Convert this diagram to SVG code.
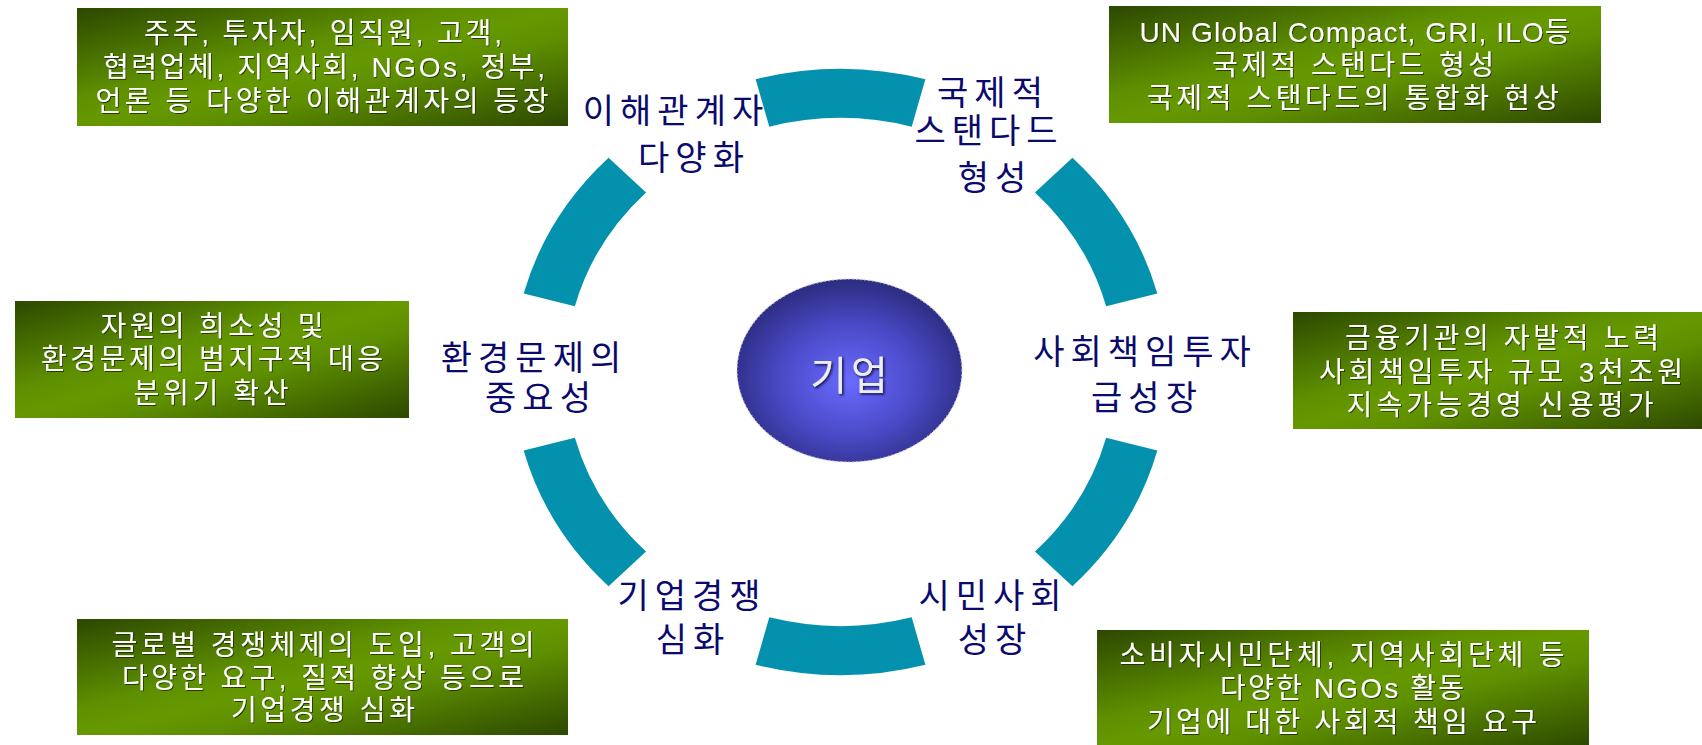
<svg xmlns="http://www.w3.org/2000/svg" width="1702" height="745" viewBox="0 0 1702 745">
<defs>
<linearGradient id="boxg" x1="0" y1="0" x2="1" y2="1">
<stop offset="0" stop-color="#2c4800"/>
<stop offset="0.38" stop-color="#5e8f00"/>
<stop offset="0.5" stop-color="#669900"/>
<stop offset="0.62" stop-color="#5e8f00"/>
<stop offset="1" stop-color="#2c4800"/>
</linearGradient>
<radialGradient id="coreg" cx="0.5" cy="0.55" r="0.55" fx="0.5" fy="0.56">
<stop offset="0" stop-color="#6a6aff"/>
<stop offset="0.55" stop-color="#4a4ac8"/>
<stop offset="1" stop-color="#2c2c80"/>
</radialGradient>
<filter id="ts" x="-5%" y="-20%" width="110%" height="140%">
<feDropShadow dx="1" dy="1" stdDeviation="0.6" flood-color="#1a2600" flood-opacity="0.8"/>
</filter>
<filter id="cs" x="-10%" y="-20%" width="120%" height="140%">
<feDropShadow dx="1.5" dy="1.5" stdDeviation="0.8" flood-color="#101040" flood-opacity="0.9"/>
</filter>
</defs>
<style>
.box{fill:url(#boxg)}
.bt{font-family:"Liberation Sans","Noto Sans CJK KR",sans-serif;font-size:28px;fill:#ffffff;text-anchor:middle;filter:url(#ts)}
.lb{font-family:"Liberation Sans","Noto Sans CJK KR",sans-serif;font-size:34px;fill:#0a0a6e;text-anchor:middle;letter-spacing:6px}
.arc{fill:#0391ad}
.ct{font-family:"Liberation Sans","Noto Sans CJK KR",sans-serif;font-size:40px;fill:#eeeeee;text-anchor:middle;letter-spacing:4px;filter:url(#cs)}
</style>
<rect width="1702" height="745" fill="#ffffff"/>

<g id="connectors">
<path class="arc" d="M755.61,79.32 A328,303 0 0 1 925.39,79.32 L911.68,126.65 A275,254 0 0 0 769.32,126.65 Z"/>
<path class="arc" d="M1072.43,157.75 A328,303 0 0 1 1157.32,293.58 L1106.13,306.26 A275,254 0 0 0 1034.96,192.39 Z"/>
<path class="arc" d="M1157.32,450.42 A328,303 0 0 1 1072.43,586.25 L1034.96,551.61 A275,254 0 0 0 1106.13,437.74 Z"/>
<path class="arc" d="M925.39,664.68 A328,303 0 0 1 755.61,664.68 L769.32,617.35 A275,254 0 0 0 911.68,617.35 Z"/>
<path class="arc" d="M608.57,586.25 A328,303 0 0 1 523.68,450.42 L574.87,437.74 A275,254 0 0 0 646.04,551.61 Z"/>
<path class="arc" d="M523.68,293.58 A328,303 0 0 1 608.57,157.75 L646.04,192.39 A275,254 0 0 0 574.87,306.26 Z"/>
</g>

<g id="core">
<ellipse cx="849.5" cy="370.5" rx="112.5" ry="91.5" fill="url(#coreg)" stroke="#c8c8e4" stroke-width="1.5" stroke-dasharray="1.5 2.5" stroke-opacity="0.8"/>
<text class="ct" x="851" y="390">기업</text>
</g>

<g id="label-stakeholders">
<text class="lb" x="676" y="123">이해관계자</text>
<text class="lb" x="694" y="170">다양화</text>
</g>
<g id="label-standards">
<text class="lb" x="993" y="105">국제적</text>
<text class="lb" x="989" y="143">스탠다드</text>
<text class="lb" x="995" y="190">형성</text>
</g>
<g id="label-sri">
<text class="lb" x="1145" y="364">사회책임투자</text>
<text class="lb" x="1147" y="410">급성장</text>
</g>
<g id="label-civil">
<text class="lb" x="993" y="608">시민사회</text>
<text class="lb" x="995" y="652">성장</text>
</g>
<g id="label-competition">
<text class="lb" x="692" y="608">기업경쟁</text>
<text class="lb" x="693" y="652">심화</text>
</g>
<g id="label-environment">
<text class="lb" x="534" y="370">환경문제의</text>
<text class="lb" x="541" y="410">중요성</text>
</g>

<g id="box-stakeholders">
<rect class="box" x="77" y="8" width="491" height="118"/>
<text class="bt" x="323" y="43" textLength="358" lengthAdjust="spacing">주주, 투자자, 임직원, 고객,</text>
<text class="bt" x="324" y="77" textLength="442" lengthAdjust="spacing">협력업체, 지역사회, NGOs, 정부,</text>
<text class="bt" x="322" y="111" textLength="453" lengthAdjust="spacing">언론 등 다양한 이해관계자의 등장</text>
</g>
<g id="box-standards">
<rect class="box" x="1109" y="6" width="492" height="117"/>
<text class="bt" x="1355" y="42" textLength="431" lengthAdjust="spacing">UN Global Compact, GRI, ILO등</text>
<text class="bt" x="1353" y="75" textLength="282" lengthAdjust="spacing">국제적 스탠다드 형성</text>
<text class="bt" x="1353" y="108" textLength="412" lengthAdjust="spacing">국제적 스탠다드의 통합화 현상</text>
</g>
<g id="box-environment">
<rect class="box" x="15" y="301" width="394" height="117"/>
<text class="bt" x="212" y="336" textLength="223" lengthAdjust="spacing">자원의 희소성 및</text>
<text class="bt" x="212" y="369" textLength="342" lengthAdjust="spacing">환경문제의 범지구적 대응</text>
<text class="bt" x="211" y="403" textLength="155" lengthAdjust="spacing">분위기 확산</text>
</g>
<g id="box-sri">
<rect class="box" x="1293" y="312" width="414" height="117"/>
<text class="bt" x="1502" y="348" textLength="314" lengthAdjust="spacing">금융기관의 자발적 노력</text>
<text class="bt" x="1501" y="382" textLength="364" lengthAdjust="spacing">사회책임투자 규모 3천조원</text>
<text class="bt" x="1500" y="415" textLength="307" lengthAdjust="spacing">지속가능경영 신용평가</text>
</g>
<g id="box-competition">
<rect class="box" x="77" y="619" width="491" height="116"/>
<text class="bt" x="323" y="655" textLength="423" lengthAdjust="spacing">글로벌 경쟁체제의 도입, 고객의</text>
<text class="bt" x="323" y="688" textLength="402" lengthAdjust="spacing">다양한 요구, 질적 향상 등으로</text>
<text class="bt" x="323" y="720" textLength="184" lengthAdjust="spacing">기업경쟁 심화</text>
</g>
<g id="box-civil">
<rect class="box" x="1097" y="630" width="492" height="118"/>
<text class="bt" x="1342" y="665" textLength="445" lengthAdjust="spacing">소비자시민단체, 지역사회단체 등</text>
<text class="bt" x="1342" y="698" textLength="244" lengthAdjust="spacing">다양한 NGOs 활동</text>
<text class="bt" x="1342" y="732" textLength="390" lengthAdjust="spacing">기업에 대한 사회적 책임 요구</text>
</g>
</svg>
